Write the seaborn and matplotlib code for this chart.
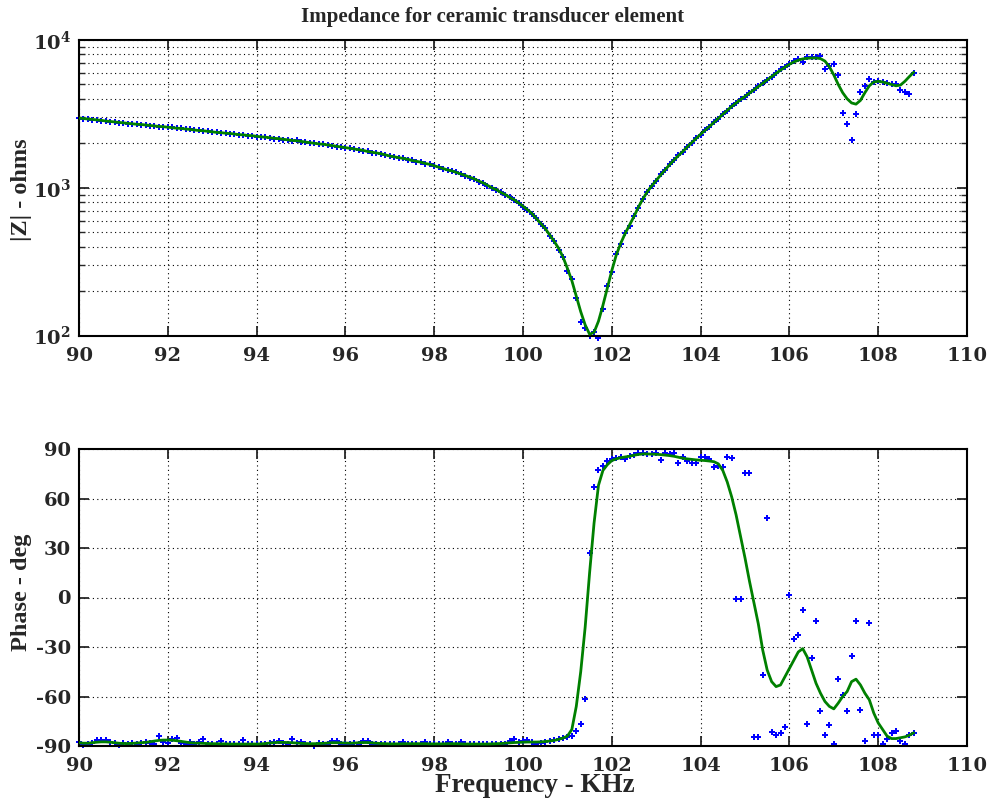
import numpy as np
import pandas as pd
import matplotlib
matplotlib.use("Agg")
import matplotlib.pyplot as plt
import seaborn as sns
from matplotlib.ticker import LogLocator, FixedLocator, NullFormatter, FuncFormatter

# ---------------- data ----------------
freq_start, freq_stop, n_points = 90.0, 108.8, 189   # 0.1 kHz sampling grid
freq = np.round(np.linspace(freq_start, freq_stop, n_points), 1)

# |Z| smooth fit (green), ohms
mag_fit = [
    2960, 2940, 2920, 2900, 2880, 2860, 2830, 2810, 2790, 2770,
    2750, 2730, 2710, 2690, 2680, 2660, 2640, 2620, 2600, 2590,
    2570, 2550, 2530, 2520, 2500, 2480, 2460, 2440, 2430, 2410,
    2390, 2370, 2360, 2340, 2330, 2310, 2290, 2280, 2260, 2250,
    2230, 2210, 2200, 2180, 2160, 2150, 2130, 2110, 2090, 2080,
    2060, 2040, 2020, 2000, 1980, 1970, 1950, 1930, 1910, 1890,
    1870, 1850, 1830, 1810, 1790, 1760, 1740, 1720, 1700, 1670,
    1640, 1620, 1600, 1580, 1560, 1530, 1510, 1490, 1460, 1440,
    1410, 1380, 1350, 1320, 1300, 1270, 1240, 1210, 1180, 1150,
    1110, 1080, 1040, 1000, 970, 930, 900, 860, 830, 790,
    750, 710, 670, 620, 575, 530, 480, 435, 390, 340,
    285, 235, 185, 145, 118, 102, 105, 125, 160, 210,
    275, 350, 420, 490, 560, 640, 740, 840, 940, 1030,
    1120, 1220, 1320, 1430, 1540, 1650, 1760, 1890, 2020, 2160,
    2300, 2450, 2600, 2770, 2950, 3140, 3340, 3550, 3750, 3950,
    4150, 4370, 4600, 4850, 5100, 5380, 5670, 5950, 6250, 6550,
    6850, 7100, 7300, 7450, 7520, 7550, 7550, 7480, 7200, 6600,
    5800, 5000, 4400, 4000, 3750, 3680, 3900, 4400, 4900, 5200,
    5250, 5200, 5100, 5000, 4900, 4950, 5250, 5650, 6050,
]

# |Z| measured points (blue), ohms
mag_meas = [
    2950, 2930, 2930, 2890, 2880, 2850, 2840, 2800, 2790, 2760,
    2760, 2720, 2710, 2700, 2670, 2660, 2630, 2620, 2590, 2580,
    2560, 2560, 2520, 2530, 2490, 2480, 2450, 2450, 2420, 2410,
    2380, 2370, 2350, 2340, 2320, 2310, 2280, 2290, 2250, 2250,
    2220, 2220, 2190, 2170, 2150, 2140, 2120, 2100, 2080, 2090,
    2050, 2040, 2010, 2000, 1970, 1970, 1940, 1930, 1900, 1890,
    1860, 1860, 1820, 1810, 1780, 1760, 1730, 1720, 1690, 1670,
    1630, 1620, 1590, 1580, 1550, 1530, 1500, 1490, 1450, 1440,
    1400, 1380, 1340, 1320, 1290, 1270, 1230, 1210, 1170, 1150,
    1100, 1080, 1030, 1000, 960, 930, 890, 860, 820, 790,
    740, 710, 660, 620, 565, 530, 470, 435, 380, 340,
    275, 240, 180, 123, 113, 100, 105, 96, 152, 216,
    270, 355, 415, 495, 555, 645, 735, 845, 935, 1035,
    1110, 1230, 1310, 1440, 1530, 1660, 1750, 1900, 2010, 2170,
    2290, 2460, 2590, 2780, 2940, 3150, 3330, 3560, 3740, 3960,
    4140, 4380, 4590, 4860, 5090, 5390, 5660, 5960, 6350, 6550,
    6900, 7200, 7440, 7100, 7700, 7700, 7700, 7800, 6340, 6640,
    6870, 5800, 3200, 2700, 2100, 3150, 4470, 4900, 5480, 5200,
    5280, 5200, 5100, 5000, 5000, 4580, 4470, 4290, 6000,
]

# Phase smooth fit (green), degrees
phase_fit = [
    -88.0, -88.3, -88.3, -88.0, -87.7, -87.5, -87.5, -87.7, -88.0, -88.3,
    -88.5, -88.5, -88.4, -88.2, -88.0, -87.8, -87.4, -87.0, -86.6, -86.4,
    -86.4, -86.5, -86.8, -87.2, -87.6, -88.0, -88.2, -88.3, -88.4, -88.5,
    -88.6, -88.6, -88.7, -88.7, -88.8, -88.8, -88.8, -88.8, -88.8, -88.8,
    -88.8, -88.7, -88.5, -88.2, -88.0, -87.8, -87.8, -87.9, -88.0, -88.2,
    -88.4, -88.5, -88.6, -88.6, -88.5, -88.4, -88.2, -88.0, -88.0, -88.1,
    -88.2, -88.3, -88.2, -88.0, -87.9, -87.9, -88.1, -88.3, -88.5, -88.6,
    -88.7, -88.7, -88.7, -88.6, -88.6, -88.6, -88.6, -88.6, -88.6, -88.7,
    -88.7, -88.7, -88.7, -88.6, -88.6, -88.6, -88.7, -88.8, -88.8, -88.8,
    -88.8, -88.8, -88.8, -88.7, -88.6, -88.5, -88.3, -88.1, -87.9, -87.8,
    -87.7, -87.6, -87.6, -87.6, -87.5, -87.3, -87.0, -86.6, -86.0, -85.2,
    -84.0, -80.0, -66.0, -45.0, -18.0, 15.0, 45.0, 68.0, 77.0, 80.5,
    83.0, 84.0, 84.7, 85.2, 85.6, 86.2, 86.7, 87.0, 87.0, 86.9,
    86.8, 86.6, 86.3, 86.0, 85.6, 85.0, 84.4, 84.0, 83.7, 83.4,
    83.2, 83.0, 82.7, 82.3, 81.0, 77.0, 70.0, 61.0, 50.0, 37.0,
    24.0, 10.0, -3.0, -16.0, -32.0, -44.0, -51.0, -54.0, -53.0, -48.0,
    -43.0, -38.0, -33.0, -31.0, -36.0, -44.0, -52.0, -58.0, -63.0, -66.0,
    -67.5, -64.0, -60.0, -57.0, -51.0, -49.5, -53.0, -58.0, -62.0, -70.0,
    -76.0, -80.0, -84.0, -85.5, -85.5, -85.0, -84.5, -83.5, -82.0,
]

# Phase measured points (blue), degrees
phase_meas = [
    -87.5, -89.5, -88.5, -88.0, -86.5, -86.5, -86.5, -87.5, -88.0, -89.5,
    -88.0, -88.5, -88.0, -88.5, -88.0, -87.5, -88.0, -88.5, -84.0, -87.5,
    -88.0, -86.0, -85.0, -88.0, -89.0, -87.5, -88.5, -87.5, -85.5, -88.5,
    -89.0, -88.5, -87.0, -88.5, -89.0, -88.5, -88.5, -86.5, -89.0, -88.5,
    -89.0, -88.5, -89.0, -88.0, -87.5, -87.0, -88.0, -88.5, -85.5, -88.0,
    -87.5, -88.5, -89.0, -90.0, -88.0, -89.0, -88.5, -87.0, -87.0, -88.5,
    -88.5, -89.0, -88.0, -88.5, -87.0, -87.0, -88.5, -89.0, -88.5, -89.0,
    -89.0, -88.5, -89.0, -87.5, -89.0, -88.5, -89.0, -88.5, -87.5, -88.5,
    -89.0, -88.5, -89.0, -87.5, -89.0, -88.5, -87.5, -89.0, -89.0, -88.5,
    -89.0, -89.0, -88.5, -89.0, -89.0, -88.5, -89.0, -87.0, -86.0, -87.5,
    -87.0, -86.5, -87.5, -88.5, -88.0, -87.5, -87.0, -86.5, -86.0, -85.0,
    -84.7, -83.7, -80.7, -76.5, -61.3, 27.0, 67.0, 77.0, 80.0, 82.7,
    84.0, 84.5, 85.0, 84.0, 85.7, 86.5, 87.5, 87.5, 87.0, 87.0,
    87.5, 83.3, 87.5, 87.0, 87.5, 81.5, 85.0, 82.7, 81.5, 81.5,
    85.0, 85.0, 84.0, 79.0, 80.0, 79.0, 85.0, 84.5, -1.0, -1.0,
    75.5, 75.5, -84.5, -84.5, -47.0, 48.0, -81.5, -83.5, -82.0, -78.5,
    1.5, -25.0, -22.7, -7.6, -76.7, -36.7, -14.2, -69.0, -83.5, -77.0,
    -89.0, -49.5, -59.0, -68.8, -35.5, -14.2, -68.0, -87.0, -15.5, -83.5,
    -83.5, -89.0, -86.0, -82.0, -81.0, -87.0, -89.0, -83.5, -82.0,
]

x_ticks = [90, 92, 94, 96, 98, 100, 102, 104, 106, 108, 110]
phase_ticks = [-90, -60, -30, 0, 30, 60, 90]

title_text = "Impedance for ceramic transducer element"
mag_label = "|Z| - ohms"
phase_label = "Phase - deg"
x_label = "Frequency - KHz"

df = pd.DataFrame({"freq": freq, "mag_fit": mag_fit, "mag_meas": mag_meas,
                   "phase_fit": phase_fit, "phase_meas": phase_meas})

# ---------------- style ----------------
sns.set_style("ticks")
plt.rcParams["font.family"] = ["Liberation Serif", "DejaVu Serif"]
plt.rcParams["font.weight"] = "bold"
plt.rcParams["mathtext.fontset"] = "custom"
plt.rcParams["mathtext.rm"] = "DejaVu Serif:bold"
plt.rcParams["mathtext.bf"] = "DejaVu Serif:bold"
plt.rcParams["mathtext.it"] = "DejaVu Serif:bold"
plt.rcParams["mathtext.default"] = "rm"

W, H = 992, 799
fig = plt.figure(figsize=(W / 100, H / 100), dpi=100)
fig.patch.set_facecolor("white")

def px_axes(left, top, right, bottom):
    return fig.add_axes([left / W, 1 - bottom / H, (right - left) / W, (bottom - top) / H])

ax1 = px_axes(79, 40, 967, 335.5)
ax2 = px_axes(79, 449, 967, 746)

line_color = (0.0, 0.5, 0.0)
pt_color = (0.0, 0.0, 1.0)
tick_font = {"family": "DejaVu Serif", "weight": "bold", "size": 14}
label_fs = 17.5

for ax in (ax1, ax2):
    sns.lineplot(data=df, x="freq", y="mag_fit" if ax is ax1 else "phase_fit",
                 ax=ax, color=line_color, linewidth=2.0, zorder=3, legend=False)
    sns.scatterplot(data=df, x="freq", y="mag_meas" if ax is ax1 else "phase_meas",
                    ax=ax, color=pt_color, marker="P", s=20, linewidth=0,
                    zorder=2, legend=False)
    ax.set_xlim(90, 110)
    ax.xaxis.set_major_locator(FixedLocator(x_ticks))
    ax.set_xticklabels([str(t) for t in x_ticks])
    ax.tick_params(axis="x", which="major", pad=8)
    ax.tick_params(axis="y", which="major", pad=6)
    ax.tick_params(axis="both", which="major", direction="in", length=7, width=1.3,
                   top=True, right=True)
    ax.tick_params(axis="both", which="minor", direction="in", length=4, width=1.0,
                   top=True, right=True)
    for sp in ax.spines.values():
        sp.set_linewidth(1.5)
        sp.set_color("black")
    ax.set_xlabel("")
    ax.set_ylabel("")

# top: log magnitude
ax1.set_yscale("log")
ax1.set_ylim(100, 10000)
ax1.yaxis.set_major_locator(LogLocator(base=10, numticks=10))
ax1.yaxis.set_minor_locator(LogLocator(base=10, subs=np.arange(2, 10), numticks=20))
ax1.yaxis.set_minor_formatter(NullFormatter())
ax1.yaxis.set_major_formatter(FuncFormatter(lambda v, p: r"$10^{%d}$" % round(np.log10(v))))
ax1.grid(True, which="major", axis="both", linestyle=(0, (1, 3)), color="black", linewidth=0.8)
ax1.grid(True, which="minor", axis="y", linestyle=(0, (1, 3)), color="black", linewidth=0.8)

# bottom: phase
ax2.set_ylim(-90, 90)
ax2.yaxis.set_major_locator(FixedLocator(phase_ticks))
ax2.set_yticklabels([str(t) for t in phase_ticks])
ax2.grid(True, which="major", axis="both", linestyle=(0, (1, 3)), color="black", linewidth=0.8)

for ax in (ax1, ax2):
    for lab in ax.get_xticklabels() + ax.get_yticklabels():
        lab.set_fontproperties(tick_font)
    for coll in ax.collections:
        coll.set_clip_on(False)

# texts placed like the reference
fig.text(493 / W, 1 - 17 / H, title_text, ha="center", va="center",
         fontsize=15, fontweight="bold", family="Liberation Serif")
fig.text(22 / W, 1 - 190 / H, mag_label, ha="center", va="center", rotation=90,
         fontsize=label_fs, fontweight="bold", family="Liberation Serif")
fig.text(22 / W, 1 - 592 / H, phase_label, ha="center", va="center", rotation=90,
         fontsize=label_fs, fontweight="bold", family="Liberation Serif")
fig.text(535 / W, 1 - 786 / H, x_label, ha="center", va="center",
         fontsize=19.5, fontweight="bold", family="Liberation Serif")

fig.savefig("out.png", dpi=100, facecolor="white")
